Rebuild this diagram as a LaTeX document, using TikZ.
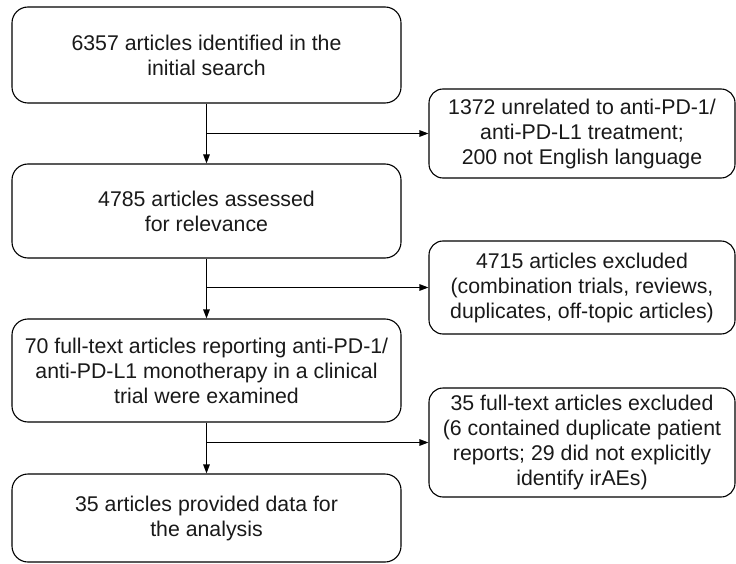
\documentclass[tikz,border=0pt]{standalone}
\usepackage{fontspec}
\setmainfont{Liberation Sans}
\usetikzlibrary{arrows.meta}
\begin{document}
\begin{tikzpicture}[x=1pt,y=-1pt,
  box/.style={draw,line width=1.1pt,rounded corners=16pt,align=center,inner sep=0pt,
    font=\fontsize{21.3}{25}\selectfont,text=black!90},
  mainbox/.style={box,minimum width=389pt},
  sidebox/.style={box,minimum width=306pt,rounded corners=14pt},
  arr/.style={line width=1.1pt,-{Stealth[length=9pt,width=6.5pt,inset=0pt]}}]
\useasboundingbox (0,0) rectangle (736,564);
\node[mainbox,minimum height=96pt] (A) at (206.5,55) {6357 articles identified in the\\initial search};
\node[mainbox,minimum height=94pt] (B) at (206.5,211) {4785 articles assessed\\for relevance};
\node[mainbox,minimum height=103pt] (C) at (206.5,370.5) {70 full-text articles reporting anti-PD-1/\\anti-PD-L1 monotherapy in a clinical\\trial were examined};
\node[mainbox,minimum height=88pt] (D) at (206.5,518) {35 articles provided data for\\the analysis};
\node[sidebox,minimum height=89pt] (R1) at (582,133.5) {1372 unrelated to anti-PD-1/\\anti-PD-L1 treatment;\\200 not English language};
\node[sidebox,minimum height=93pt] (R2) at (582,287.5) {4715 articles excluded\\(combination trials, reviews,\\duplicates, off-topic articles)};
\node[sidebox,minimum height=109pt] (R3) at (582,442.5) {35 full-text articles excluded\\(6 contained duplicate patient\\reports; 29 did not explicitly\\identify irAEs)};
\draw[arr] (A.south) -- (B.north);
\draw[arr] (B.south) -- (C.north);
\draw[arr] (C.south) -- (D.north);
\draw[arr] (A.south |- R1.west) -- (R1.west);
\draw[arr] (B.south |- R2.west) -- (R2.west);
\draw[arr] (C.south |- R3.west) -- (R3.west);
\end{tikzpicture}
\end{document}
